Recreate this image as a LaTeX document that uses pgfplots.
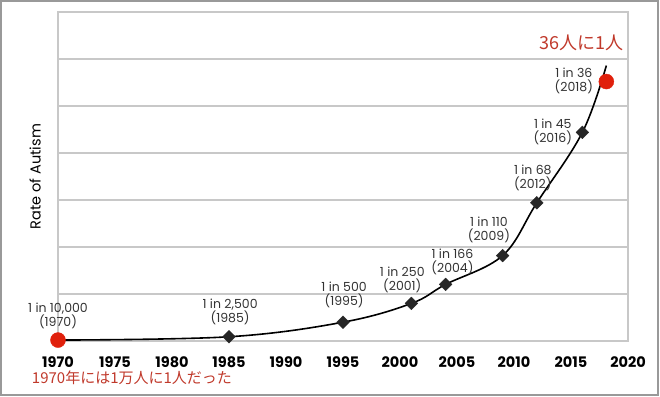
\documentclass[border=0pt]{standalone}
\usepackage{pgfplots}
\pgfplotsset{compat=1.18}
\usepackage{fontspec}
\setmainfont{Poppins}
\newfontfamily\jp{Noto Sans CJK JP}
\definecolor{gridc}{HTML}{C8C8C8}
\definecolor{jred}{HTML}{C0392B}
\definecolor{dotred}{HTML}{E0200C}
\definecolor{txt}{HTML}{333333}
\begin{document}
\begin{tikzpicture}[x=1pt,y=1pt]
\path (-58,-55) rectangle (602,341);
\draw[draw=black!40, line width=1.5pt] (-57,-54) rectangle (600,340);
\begin{axis}[at={(0,0)}, anchor=south west, scale only axis,
  width=570pt, height=329pt,
  xmin=1970, xmax=2020, ymin=0, ymax=35,
  xtick={1970,1975,...,2020}, ytick={0,5,...,35}, yticklabels={},
  ymajorgrids, grid style={gridc, line width=1.5pt},
  axis line style={gridc, line width=1.5pt},
  major tick length=0pt,
  xticklabel style={font=\fontsize{14.5}{16}\selectfont\bfseries, anchor=base, yshift=-26pt},
  /pgf/number format/1000 sep={},
  /pgf/number format/assume math mode=true,
  ylabel={Rate of Autism},
  ylabel style={font=\fontsize{14.5}{16}\selectfont, at={(axis description cs:-0.040,0.5)}, anchor=center},
  clip=false]
\addplot[black, line width=1.6pt, smooth, tension=0.6] coordinates {
  (1970,0.1) (1985,0.45) (1995,2.0) (2001,4.0) (2004,6.02) (2009,9.09) (2012,14.7) (2016,22.2) (2018.1,29.3)};
\addplot[only marks, mark=square*, mark size=4.5pt, mark options={rotate=45}, color=black!85] coordinates {
  (1985,0.45) (1995,2.0) (2001,4.0) (2004,6.02) (2009,9.09) (2012,14.7) (2016,22.2)};
\addplot[only marks, mark=*, mark size=7.5pt, color=dotred] coordinates {(1970,0.1) (2018.1,27.6)};
\begin{scope}[every node/.style={font=\fontsize{12.5}{14}\selectfont, text=txt, align=center, inner sep=0pt}]
\node at (axis cs:1970,2.66) {1 in 10,000\\(1970)};
\node at (axis cs:1985.1,3.14) {1 in 2,500\\(1985)};
\node at (axis cs:1995.1,4.9) {1 in 500\\(1995)};
\node at (axis cs:2000.2,6.5) {1 in 250\\(2001)};
\node at (axis cs:2004.6,8.46) {1 in 166\\(2004)};
\node at (axis cs:2007.8,11.8) {1 in 110\\(2009)};
\node at (axis cs:2011.65,17.3) {1 in 68\\(2012)};
\node at (axis cs:2013.4,22.2) {1 in 45\\(2016)};
\node at (axis cs:2015.25,27.7) {1 in 36\\(2018)};
\end{scope}
\node[anchor=east, inner sep=0pt, text=jred, font=\jp\fontsize{18}{20}\selectfont] at (axis cs:2019.65,31.7) {36人に1人};
\node[anchor=west, inner sep=0pt, text=jred, font=\jp\fontsize{15}{18}\selectfont] at (axis cs:1967.7,-3.94) {1970年には1万人に1人だった};
\end{axis}
\end{tikzpicture}
\end{document}
